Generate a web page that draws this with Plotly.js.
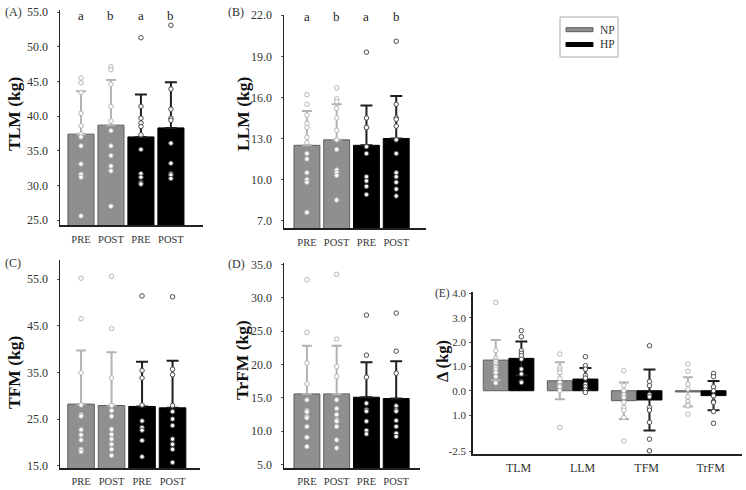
<!DOCTYPE html>
<html><head><meta charset="utf-8">
<script src="https://cdn.plot.ly/plotly-3.0.1.min.js"></script>
<style>html,body{margin:0;padding:0;background:#fff}#chart{width:746px;height:490px}</style>
</head><body><div id="chart"></div>
<script>
// ---------- data ----------
const xLabels = ['PRE', 'POST', 'PRE', 'POST'];
const sigLetters = ['a', 'b', 'a', 'b'];
const groupNames = ['NP', 'HP'];

// (A) TLM
const tlmMean = [37.4, 38.7, 37.0, 38.3];
const tlmSD = [6.2, 6.5, 6.1, 6.6];
const tlmNPpre = [45.5, 44.8, 43.4, 40.4, 38.6, 37.4, 37.0, 35.7, 33.1, 31.6, 31.2, 25.6];
const tlmNPpost = [47.1, 46.7, 44.6, 41.4, 39.3, 37.9, 35.7, 34.3, 32.8, 32.1, 27.0];
const tlmHPpre = [51.3, 41.4, 39.7, 39.0, 38.5, 37.3, 35.2, 31.7, 31.2, 30.4, 30.2, 30.2];
const tlmHPpost = [53.1, 43.9, 41.0, 39.7, 39.4, 36.1, 33.2, 31.7, 31.5, 31.0];

// (B) LLM
const llmMean = [12.5, 12.9, 12.5, 13.0];
const llmSD = [2.5, 2.6, 2.9, 3.1];
const llmNPpre = [16.2, 15.5, 14.7, 14.1, 13.8, 13.1, 12.7, 11.9, 11.5, 10.5, 10.0, 9.8, 7.6];
const llmNPpost = [16.7, 15.9, 15.7, 15.2, 14.5, 13.6, 12.9, 12.2, 10.7, 10.5, 10.3, 8.5];
const llmHPpre = [19.3, 14.5, 13.8, 13.8, 12.4, 11.9, 10.2, 9.9, 9.5, 8.9];
const llmHPpost = [20.1, 15.5, 14.5, 14.4, 13.9, 12.9, 11.9, 10.5, 10.2, 9.8, 9.3, 8.8];

// (C) TFM
const tfmMean = [28.2, 27.9, 27.7, 27.4];
const tfmSD = [11.5, 11.4, 9.6, 10.1];
const tfmNPpre = [55.2, 46.5, 34.9, 28.0, 25.9, 25.6, 22.7, 21.6, 20.5, 18.5, 18.0];
const tfmNPpost = [55.6, 44.4, 33.8, 27.9, 26.8, 25.6, 22.8, 21.7, 20.7, 19.6, 18.5, 17.2];
const tfmHPpre = [51.4, 35.4, 33.8, 28.0, 24.6, 23.2, 22.6, 20.4, 20.4, 16.9];
const tfmHPpost = [51.2, 35.7, 34.5, 27.9, 26.6, 25.0, 23.6, 20.7, 19.6, 18.5, 15.7];

// (D) TrFM
const trfmMean = [15.6, 15.6, 15.1, 14.9];
const trfmSD = [7.2, 7.2, 5.25, 5.6];
const trfmNPpre = [32.7, 24.8, 20.2, 17.1, 14.7, 13.1, 12.9, 12.2, 12.0, 10.7, 9.1, 7.7];
const trfmNPpost = [33.5, 23.8, 19.7, 18.2, 14.7, 13.4, 12.5, 11.7, 11.5, 10.7, 8.7, 7.5];
const trfmHPpre = [27.4, 21.4, 18.1, 14.2, 13.2, 13.2, 13.0, 11.5, 10.1, 9.6];
const trfmHPpost = [27.7, 22.0, 18.7, 13.8, 13.2, 13.0, 11.6, 10.7, 9.7, 9.2];

// (E) change
const eCats = ['TLM', 'LLM', 'TFM', 'TrFM'];
const eTickVals = [4, 3, 2, 1, 0, -1, -2.5];
const eTickText = ['4.0', '3.0', '2.0', '1.0', '0.0', '1.0', '-2.5'];
const deltaNP = [1.26, 0.41, -0.41, -0.05];
const deltaNPsd = [0.82, 0.76, 0.75, 0.60];
const deltaHP = [1.33, 0.48, -0.38, -0.20];
const deltaHPsd = [0.69, 0.45, 1.25, 0.60];
const dNP_TLM = [3.63, 1.65, 1.34, 1.23, 1.20, 1.10, 1.00, 0.96, 0.86, 0.75, 0.58, 0.32];
const dNP_LLM = [1.51, 0.96, 0.85, 0.75, 0.50, 0.34, 0.21, 0.16, 0.00, -1.51];
const dNP_TFM = [0.82, 0.21, 0.00, -0.16, -0.27, -0.48, -0.69, -0.80, -1.10, -2.06];
const dNP_TrFM = [1.10, 0.80, 0.27, 0.07, -0.25, -0.44, -0.55, -0.62, -0.96];
const dHP_TLM = [2.47, 2.22, 1.65, 1.54, 1.44, 1.30, 0.89, 0.69, 0.37, 0.34];
const dHP_LLM = [1.40, 1.03, 0.89, 0.62, 0.52, 0.27, 0.16, 0.03, -0.07];
const dHP_TFM = [1.85, 0.38, 0.21, -0.16, -0.25, -0.69, -0.80, -1.30, -1.99, -2.47];
const dHP_TrFM = [0.71, 0.58, 0.16, 0.00, -0.21, -0.44, -0.48, -0.85, -1.34];

// ---------- style ----------
const W = 746, H = 490;
const SERIF = 'Liberation Serif, Times New Roman, serif';
const NP_FILL = '#8f8f8f', NP_LINE = '#5e5e5e', NP_ERR = '#b3b3b3', NP_PT = '#b5b5b5';
const HP_FILL = '#000000', HP_LINE = '#000000', HP_ERR = '#1e1e1e', HP_PT = '#4a4a4a';
const px = v => v / W, py = v => 1 - v / H;

const traces = [];
function rep(arrs) {
  const xs = [], ys = [];
  arrs.forEach(([x, a]) => a.forEach(v => { xs.push(x); ys.push(v); }));
  return {xs, ys};
}
function addPanel(n, means, sds, pts) {
  const xa = n === 1 ? 'x' : 'x' + n, ya = n === 1 ? 'y' : 'y' + n;
  const groups = [[0, 1], [2, 3]];
  groups.forEach((g, gi) => {
    traces.push({
      type: 'bar', xaxis: xa, yaxis: ya, x: g, y: g.map(i => means[i]), width: 0.87,
      name: groupNames[gi], showlegend: false,
      marker: {color: gi ? HP_FILL : NP_FILL, line: {color: gi ? HP_LINE : NP_LINE, width: 1}},
      error_y: {type: 'data', symmetric: false, array: g.map(i => sds[i]), arrayminus: g.map(() => 0),
        color: gi ? HP_ERR : NP_ERR, thickness: 2, width: gi ? 6 : 5}
    });
    const r = rep(g.map(i => [i, pts[i]]));
    traces.push({
      type: 'scatter', mode: 'markers', xaxis: xa, yaxis: ya, x: r.xs, y: r.ys, showlegend: false,
      marker: {size: 4.5, color: '#ffffff', line: {color: gi ? HP_PT : NP_PT, width: 1}}
    });
  });
}
addPanel(1, tlmMean, tlmSD, [tlmNPpre, tlmNPpost, tlmHPpre, tlmHPpost]);
addPanel(2, llmMean, llmSD, [llmNPpre, llmNPpost, llmHPpre, llmHPpost]);
addPanel(3, tfmMean, tfmSD, [tfmNPpre, tfmNPpost, tfmHPpre, tfmHPpost]);
addPanel(4, trfmMean, trfmSD, [trfmNPpre, trfmNPpost, trfmHPpre, trfmHPpost]);

// panel E
const eIdx = eCats.map((c, i) => i);
[[deltaNP, deltaNPsd, [dNP_TLM, dNP_LLM, dNP_TFM, dNP_TrFM], -0.2, 0],
 [deltaHP, deltaHPsd, [dHP_TLM, dHP_LLM, dHP_TFM, dHP_TrFM], 0.2, 1]].forEach(([m, sd, pts, off, gi]) => {
  traces.push({
    type: 'bar', xaxis: 'x5', yaxis: 'y5', x: eIdx.map(i => i + off), y: m, width: 0.39,
    name: groupNames[gi], showlegend: false,
    marker: {color: gi ? HP_FILL : NP_FILL, line: {color: gi ? HP_LINE : NP_LINE, width: 1}},
    error_y: {type: 'data', array: sd, color: gi ? HP_ERR : NP_ERR, thickness: 2, width: gi ? 6 : 5}
  });
  const r = rep(eIdx.map(i => [i + off, pts[i]]));
  traces.push({
    type: 'scatter', mode: 'markers', xaxis: 'x5', yaxis: 'y5', x: r.xs, y: r.ys, showlegend: false,
    marker: {size: 4.5, color: '#ffffff', line: {color: gi ? HP_PT : NP_PT, width: 1}}
  });
});

// ---------- layout ----------
function yAx(domTop, domBot, range, tickvals, ticktext, standoff, fsize) {
  const a = {
    domain: [py(domBot), py(domTop)], range: range, showgrid: false, zeroline: false,
    showline: true, linecolor: '#222', linewidth: 1.5, ticks: 'outside', ticklen: 2, tickcolor: '#555',
    tickvals: tickvals, tickfont: {family: SERIF, size: fsize || 12, color: '#333'},
    ticklabelstandoff: standoff, fixedrange: true
  };
  if (ticktext) a.ticktext = ticktext; else a.tickformat = '.1f';
  return a;
}
function xAx(left, right, range, anchor, tickvals, ticktext, size, shift, standoff) {
  return {
    domain: [px(left), px(right)], range: range, anchor: anchor, showgrid: false, zeroline: false,
    showline: true, linecolor: '#222', linewidth: 1.5, ticks: '', tickvals: tickvals, ticktext: ticktext,
    tickfont: {family: SERIF, size: size, color: '#333'}, ticklabelstandoff: standoff,
    ticklabelshift: shift || 0, fixedrange: true
  };
}
const idx4 = [0, 1, 2, 3];
const layout = {
  width: W, height: H, margin: {l: 0, r: 0, t: 0, b: 0}, paper_bgcolor: '#fff', plot_bgcolor: 'rgba(0,0,0,0)',
  barmode: 'overlay', showlegend: false,
  xaxis: xAx(60, 203, [-0.7, 4.07], 'y', idx4, xLabels, 10.5, 0, 4),
  yaxis: yAx(10, 225, [24.3, 55.3], [25, 30, 35, 40, 45, 50, 55], null, 6),
  xaxis2: xAx(284, 426, [-0.77, 4.0], 'y2', idx4, xLabels, 10.5, 0, 4),
  yaxis2: yAx(15, 228, [6.46, 22.02], [7, 10, 13, 16, 19, 22], null, 6),
  xaxis3: xAx(60, 200, [-0.69, 3.9], 'y3', idx4, xLabels, 10.5, 0, 3),
  yaxis3: yAx(260, 468, [14.5, 59.1], [15, 25, 35, 45, 55], null, 6),
  xaxis4: xAx(284, 420, [-0.77, 3.8], 'y4', idx4, xLabels, 10.5, 0, 3),
  yaxis4: yAx(263, 468, [4.5, 35.2], [5, 10, 15, 20, 25, 30, 35], null, 6),
  xaxis5: xAx(472.7, 741.7, [-0.56, 3.64], 'y5', eIdx, eCats, 12, 10, 2),
  yaxis5: yAx(291.7, 454, [-2.6, 4.07], eTickVals, eTickText, 1, 11),
  annotations: [], shapes: []
};
layout.yaxis.anchor = 'x'; layout.yaxis2.anchor = 'x2'; layout.yaxis3.anchor = 'x3';
layout.yaxis4.anchor = 'x4'; layout.yaxis5.anchor = 'x5';

function ann(x, y, text, size, bold, angle) {
  layout.annotations.push({
    xref: 'paper', yref: 'paper', x: px(x), y: py(y), text: bold ? '<b>' + text + '</b>' : text,
    showarrow: false, xanchor: 'center', yanchor: 'middle', textangle: angle || 0,
    font: {family: SERIF, size: size, color: bold ? '#111' : '#333'}
  });
}
ann(13, 12, '(A)', 12); ann(236, 12, '(B)', 12); ann(13, 263, '(C)', 12);
ann(236, 264, '(D)', 12); ann(443, 293, '(E)', 11.5);
ann(14, 114, 'TLM (kg)', 17.5, true, -90);
ann(243, 114, 'LLM (kg)', 17.5, true, -90);
ann(14, 372, 'TFM (kg)', 17.5, true, -90);
ann(242, 360, 'TrFM (kg)', 17.5, true, -90);
ann(442, 361, 'Δ (kg)', 16.5, true, -90);

// significance letters
[['x', 15], ['x2', 17]].forEach(([xr, yy]) => {
  sigLetters.forEach((t, i) => layout.annotations.push({
    xref: xr, yref: 'paper', x: i, y: py(yy), text: t, showarrow: false, yanchor: 'middle',
    font: {family: SERIF, size: 13, color: '#222'}
  }));
});

// legend box
layout.shapes.push({type: 'rect', xref: 'paper', yref: 'paper', x0: px(560), x1: px(618), y0: py(57), y1: py(17),
  line: {color: '#aaa', width: 1}, fillcolor: '#fff'});
layout.shapes.push({type: 'rect', xref: 'paper', yref: 'paper', x0: px(566), x1: px(593), y0: py(31.7), y1: py(27.7),
  line: {color: NP_LINE, width: 1}, fillcolor: NP_FILL});
layout.shapes.push({type: 'rect', xref: 'paper', yref: 'paper', x0: px(566), x1: px(593), y0: py(46.5), y1: py(42.5),
  line: {color: '#000', width: 1}, fillcolor: HP_FILL});
groupNames.forEach((g, i) => layout.annotations.push({
  xref: 'paper', yref: 'paper', x: px(598), y: py(i ? 44.5 : 29.7), text: g, showarrow: false,
  xanchor: 'left', yanchor: 'middle', font: {family: SERIF, size: 11.5, color: '#333'}
}));

Plotly.newPlot('chart', traces, layout, {displayModeBar: false, staticPlot: true});
</script>
</body></html>
